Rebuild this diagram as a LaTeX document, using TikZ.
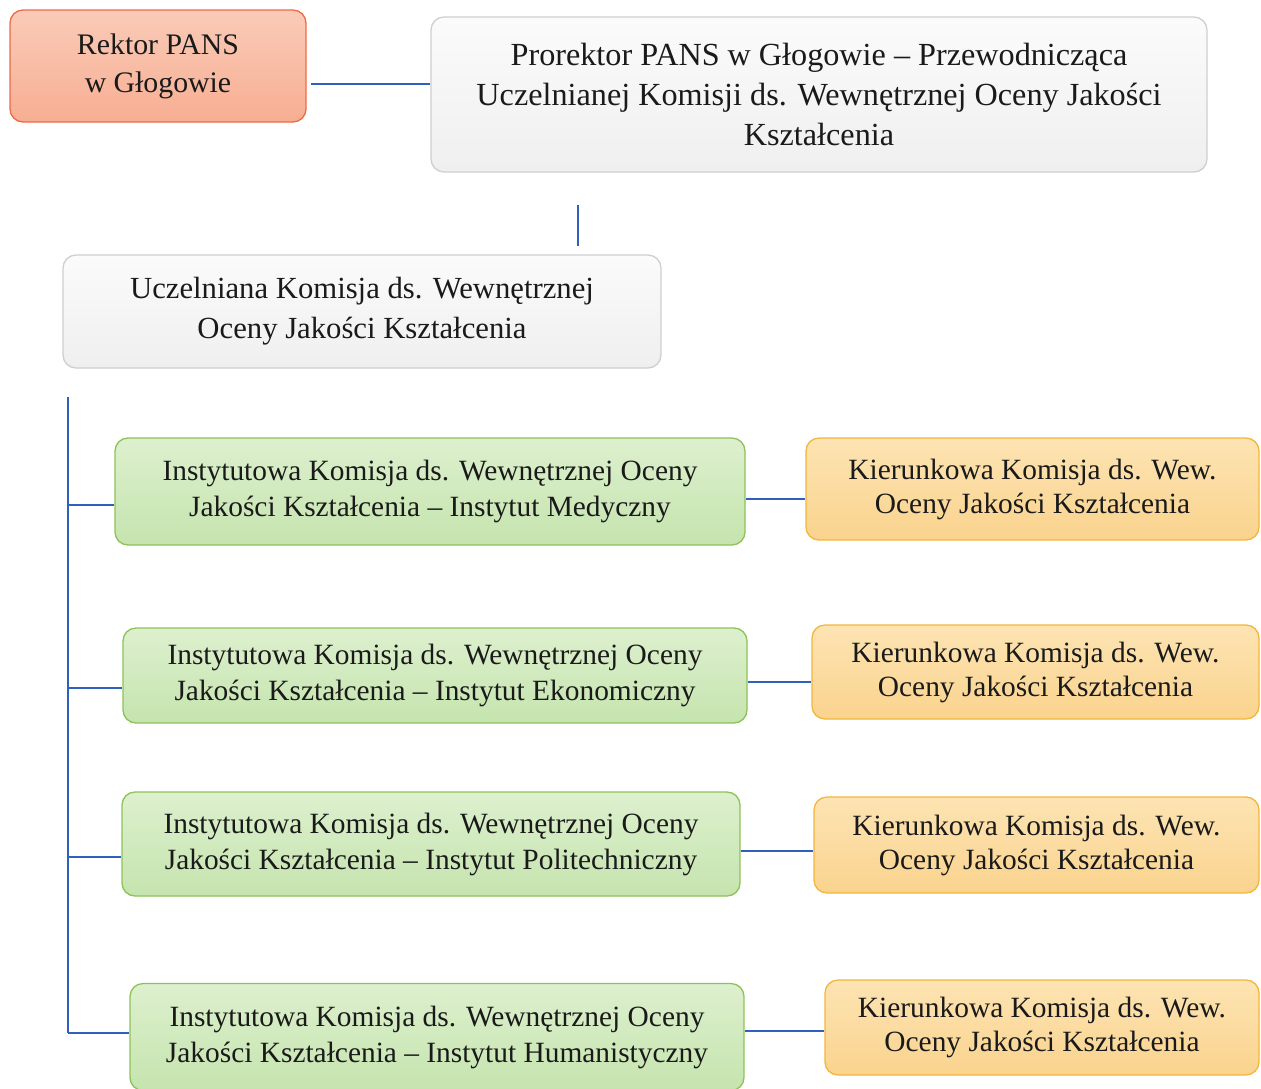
\documentclass[tikz,border=0pt]{standalone}
\usepackage{fontspec}
\setmainfont{Liberation Serif}
\definecolor{conncol}{HTML}{2F5FBF}
\definecolor{redfillA}{HTML}{FACBB8}
\definecolor{redfillB}{HTML}{F7AE92}
\definecolor{reddraw}{HTML}{EE6B47}
\definecolor{grayfillA}{HTML}{FBFBFB}
\definecolor{grayfillB}{HTML}{EFEFEF}
\definecolor{graydraw}{HTML}{CFCFCF}
\definecolor{greenfillA}{HTML}{DDF0CE}
\definecolor{greenfillB}{HTML}{C5E4AE}
\definecolor{greendraw}{HTML}{8DC257}
\definecolor{orangefillA}{HTML}{FDE4B3}
\definecolor{orangefillB}{HTML}{FAD38E}
\definecolor{orangedraw}{HTML}{F2B63E}
\definecolor{txt}{HTML}{1A1A1A}
\begin{document}
\begin{tikzpicture}[x=1pt,y=-1pt,
  box/.style={rectangle,rounded corners=13pt,line width=1.3pt,align=center,
    inner sep=0pt,text=txt,font=\fontsize{29.4}{36}\selectfont},
  redbox/.style={box,draw=reddraw,top color=redfillA,bottom color=redfillB,
    font=\fontsize{29.8}{38}\selectfont},
  graybox/.style={box,draw=graydraw,top color=grayfillA,bottom color=grayfillB},
  greenbox/.style={box,draw=greendraw,top color=greenfillA,bottom color=greenfillB},
  orangebox/.style={box,draw=orangedraw,top color=orangefillA,bottom color=orangefillB,
    font=\fontsize{29.4}{34}\selectfont},
  conn/.style={draw=conncol,line width=1.6pt}]
\useasboundingbox (0,0) rectangle (1261,1088);
\fill[white] (0,0) rectangle (1261,1088);

\node[redbox,minimum width=296pt,minimum height=112pt] (rektor) at (158,66)
  {Rektor PANS\\w Głogowie};
\node[graybox,minimum width=776pt,minimum height=155pt,font=\fontsize{32.2}{40}\selectfont] (prorektor) at (819,94.5)
  {Prorektor PANS w Głogowie – Przewodnicząca\\Uczelnianej Komisji ds. Wewnętrznej Oceny Jakości\\Kształcenia};
\node[graybox,minimum width=598pt,minimum height=113pt,font=\fontsize{30.7}{40}\selectfont] (uczel) at (362,311.5)
  {Uczelniana Komisja ds. Wewnętrznej\\Oceny Jakości Kształcenia};

\node[greenbox,minimum width=630pt,minimum height=107pt] (g1) at (430,491.5)
  {Instytutowa Komisja ds. Wewnętrznej Oceny\\Jakości Kształcenia – Instytut Medyczny};
\node[greenbox,minimum width=624pt,minimum height=95pt] (g2) at (435,675.5)
  {Instytutowa Komisja ds. Wewnętrznej Oceny\\Jakości Kształcenia – Instytut Ekonomiczny};
\node[greenbox,minimum width=618pt,minimum height=104pt] (g3) at (431,844)
  {Instytutowa Komisja ds. Wewnętrznej Oceny\\Jakości Kształcenia – Instytut Politechniczny};
\node[greenbox,minimum width=614pt,minimum height=107pt] (g4) at (437,1037)
  {Instytutowa Komisja ds. Wewnętrznej Oceny\\Jakości Kształcenia – Instytut Humanistyczny};

\node[orangebox,minimum width=453pt,minimum height=102pt] (o1) at (1032.5,489)
  {Kierunkowa Komisja ds. Wew.\\Oceny Jakości Kształcenia};
\node[orangebox,minimum width=447pt,minimum height=94pt] (o2) at (1035.5,672)
  {Kierunkowa Komisja ds. Wew.\\Oceny Jakości Kształcenia};
\node[orangebox,minimum width=445pt,minimum height=96pt] (o3) at (1036.5,845)
  {Kierunkowa Komisja ds. Wew.\\Oceny Jakości Kształcenia};
\node[orangebox,minimum width=434pt,minimum height=95pt] (o4) at (1042,1027.5)
  {Kierunkowa Komisja ds. Wew.\\Oceny Jakości Kształcenia};

% top connectors
\draw[conn] ([shift={(4,18)}]rektor.east) -- ([shift={(0,-10.5)}]prorektor.west);
\coordinate (vTop) at (578,205);
\coordinate (vBot) at (578,246);
\draw[conn,line width=1.2pt] (vTop) -- (vBot);

% trunk
\coordinate (trunkTop) at (68,397);
\coordinate (trunkBot) at (68,1033);
\draw[conn,line width=1.3pt] (trunkTop) -- (trunkBot);
\draw[conn] (trunkTop |- 0,505) -- (g1.west |- 0,505);
\draw[conn] (trunkTop |- 0,688) -- (g2.west |- 0,688);
\draw[conn] (trunkTop |- 0,857) -- (g3.west |- 0,857);
\draw[conn] (trunkTop |- 0,1033) -- (g4.west |- 0,1033);

% right connectors
\draw[conn] (g1.east |- 0,499) -- (o1.west |- 0,499);
\draw[conn] (g2.east |- 0,682) -- (o2.west |- 0,682);
\draw[conn] (g3.east |- 0,851) -- (o3.west |- 0,851);
\draw[conn] (g4.east |- 0,1031) -- (o4.west |- 0,1031);
\end{tikzpicture}
\end{document}
